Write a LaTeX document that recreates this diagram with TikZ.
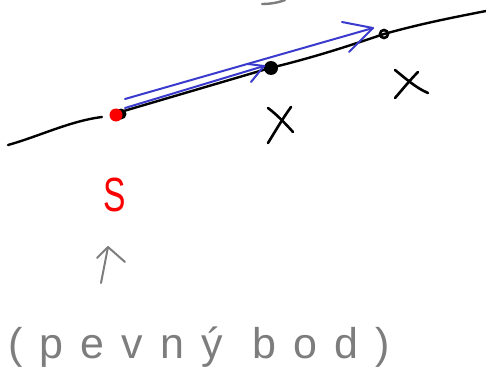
\documentclass[tikz,border=0pt]{standalone}
\usepackage{fontspec}
\setmainfont{Liberation Sans}
\definecolor{penblue}{RGB}{58,58,204}
\definecolor{pengray}{RGB}{125,125,125}
\definecolor{penred}{RGB}{250,0,0}
\begin{document}
\begin{tikzpicture}[x=1pt,y=-1pt,
  pen/.style={line width=2.4pt,line cap=round,line join=round},
  curve/.style={pen,black},
  vec/.style={pen,penblue,line width=2pt},
  cross/.style={pen,black,line width=2.6pt},
  note/.style={pengray,font=\fontsize{43}{45}\selectfont\addfontfeature{LetterSpace=40}}]
\useasboundingbox (0,0) rectangle (486,385);
% the curve
\coordinate (c0) at (8,145);
\coordinate (c1) at (102,117);
\coordinate (p0) at (117,113);
\coordinate (p1) at (270,68);
\coordinate (p2) at (384,34);
\coordinate (c9) at (486,11);
\draw[curve] (c0) .. controls (40,136) and (70,121) .. (c1);
\draw[curve] (p0) -- (p1) .. controls (320,56) and (360,42) .. (p2) .. controls (420,24) and (450,18) .. (c9);
% points
\node[circle,fill=black,inner sep=0pt,minimum size=11pt] (d0b) at (121,114) {};
\node[circle,fill=penred,inner sep=0pt,minimum size=13pt] (d0) at (116,115) {};
\node[circle,fill=black,inner sep=0pt,minimum size=14pt] (d1) at (271,68) {};
\node[circle,draw=black,line width=2.6pt,inner sep=0pt,minimum size=8pt] (d2) at (384,34) {};
% vectors
\coordinate (a1s) at (125,108);
\coordinate (a1e) at (264,66);
\coordinate (a1u) at (248,64);
\coordinate (a1l) at (251,82);
\coordinate (a2s) at (125,99);
\coordinate (a2e) at (373,28);
\coordinate (a2u) at (342,22);
\coordinate (a2l) at (349,52);
\draw[vec] (a1s) -- (a1e);
\draw[vec] (a1u) -- (a1e) -- (a1l);
\draw[vec] (a2s) -- (a2e);
\draw[vec] (a2u) -- (a2e) -- (a2l);
% crosses
\coordinate (x1a) at (268,108); \coordinate (x1b) at (293,132);
\coordinate (x1c) at (291,107); \coordinate (x1d) at (268,143);
\draw[cross] (x1a) .. controls (276,114) and (284,122) .. (x1b);
\draw[cross] (x1c) .. controls (283,118) and (276,130) .. (x1d);
\coordinate (x2a) at (395,70); \coordinate (x2b) at (428,93);
\coordinate (x2c) at (418,72); \coordinate (x2d) at (395,98);
\draw[cross] (x2a) .. controls (405,78) and (416,88) .. (x2b);
\draw[cross] (x2c) .. controls (410,80) and (402,90) .. (x2d);
% top fragment
\coordinate (t0) at (262,4); \coordinate (t1) at (285,0);
\draw[pen,pengray] (t0) .. controls (272,4) and (280,2) .. (t1);
% labels
\node[penred,font=\fontsize{48}{50}\selectfont,inner sep=0pt,xscale=0.7] (S) at (115,195) {S};
\coordinate (g0) at (101,283);
\coordinate (g1) at (108,247);
\coordinate (gu) at (97,258);
\coordinate (gl) at (125,262);
\draw[pen,pengray,line width=2pt] (g0) -- (g1);
\draw[pen,pengray,line width=2pt] (gu) -- (g1) -- (gl);
\node[note,anchor=base west,inner sep=0pt] (fp) at (8,358) {(pevný bod)};
\end{tikzpicture}
\end{document}
